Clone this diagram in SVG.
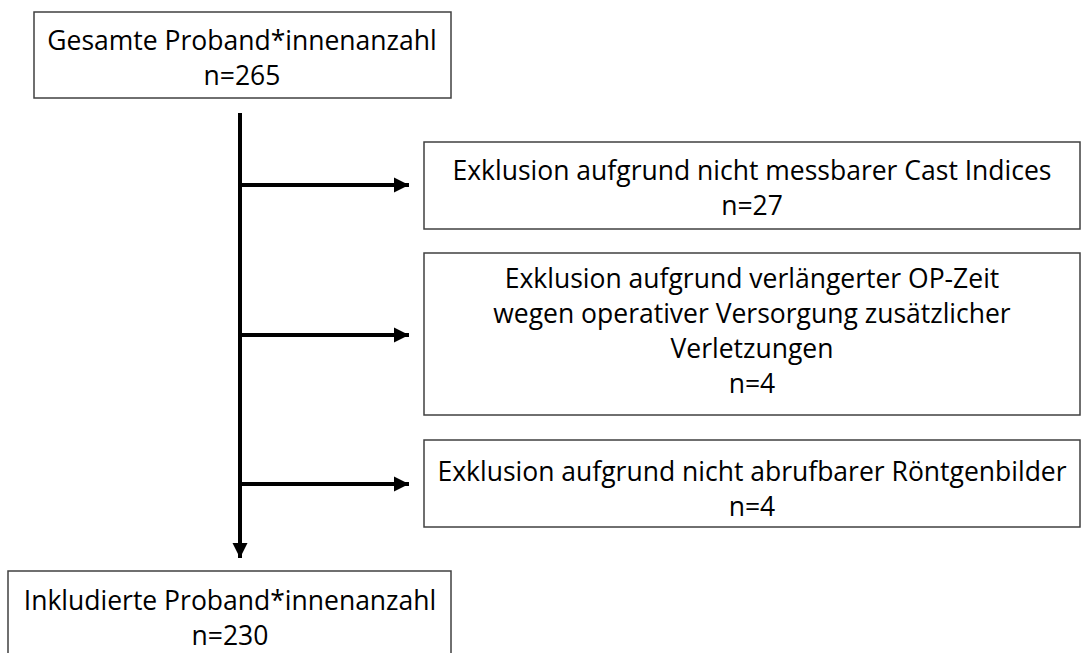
<svg xmlns="http://www.w3.org/2000/svg" width="1081" height="653" viewBox="0 0 1081 653">
<style>
.box{fill:#fff;stroke:#404040;stroke-width:1.5}
.t{font-family:"Open Sans","Liberation Sans",sans-serif;font-size:26.5px;fill:#000;text-anchor:middle}
.ln{stroke:#000;stroke-width:4;fill:none}
</style>
<defs>
<marker id="ah" viewBox="0 0 10 10" refX="10" refY="5" markerWidth="3.8" markerHeight="3.8" markerUnits="strokeWidth" orient="auto">
<path d="M0,0 L10,5 L0,10 z" fill="#000"/>
</marker>
</defs>
<rect width="1081" height="653" fill="#fff"/>
<g id="connectors">
<line class="ln" x1="240" y1="113" x2="240" y2="558" marker-end="url(#ah)"/>
<line class="ln" x1="240" y1="185" x2="409" y2="185" marker-end="url(#ah)"/>
<line class="ln" x1="240" y1="335" x2="409" y2="335" marker-end="url(#ah)"/>
<line class="ln" x1="240" y1="484" x2="409" y2="484" marker-end="url(#ah)"/>
</g>
<g id="n1">
<rect class="box" x="34" y="12" width="417" height="86"/>
<text class="t" x="242" y="50">Gesamte Proband*innenanzahl</text>
<text class="t" x="242" y="85">n=265</text>
</g>
<g id="n2">
<rect class="box" x="424" y="142" width="656" height="87"/>
<text class="t" x="752" y="180">Exklusion aufgrund nicht messbarer Cast Indices</text>
<text class="t" x="752" y="215">n=27</text>
</g>
<g id="n3">
<rect class="box" x="424" y="253" width="656" height="162"/>
<text class="t" x="752" y="288">Exklusion aufgrund verlängerter OP-Zeit</text>
<text class="t" x="752" y="323">wegen operativer Versorgung zusätzlicher</text>
<text class="t" x="752" y="358">Verletzungen</text>
<text class="t" x="752" y="393">n=4</text>
</g>
<g id="n4">
<rect class="box" x="424" y="440" width="656" height="87"/>
<text class="t" x="752" y="481">Exklusion aufgrund nicht abrufbarer Röntgenbilder</text>
<text class="t" x="752" y="516">n=4</text>
</g>
<g id="n5">
<rect class="box" x="8" y="571" width="443" height="90"/>
<text class="t" x="230" y="610">Inkludierte Proband*innenanzahl</text>
<text class="t" x="230" y="645">n=230</text>
</g>
</svg>
